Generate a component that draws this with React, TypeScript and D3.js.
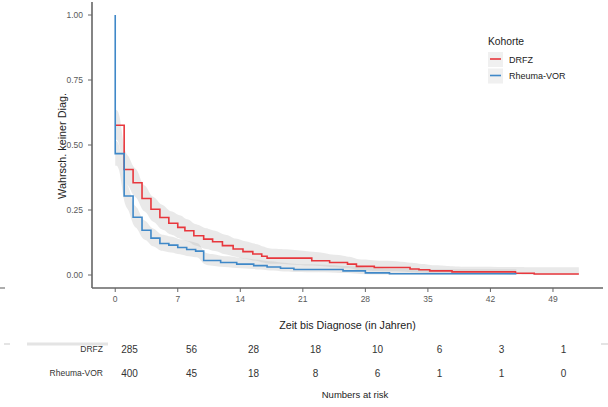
import React, { useEffect, useRef } from 'react';
import * as d3 from 'd3';

// step times (years) and survival for each cohort
const drfzTime = [0, 1, 2, 3, 4, 5, 6, 7, 7.8, 8.8, 9.9, 10.9, 12, 13.2, 14.3, 15.4, 16.4, 17, 22, 24, 26, 27, 29, 33, 34, 35.2, 37.7, 44.8, 46.9, 51.9];
const drfzSurv = [0.576, 0.406, 0.355, 0.294, 0.253, 0.221, 0.199, 0.183, 0.17, 0.151, 0.138, 0.128, 0.113, 0.1, 0.09, 0.081, 0.072, 0.065, 0.055, 0.048, 0.042, 0.033, 0.029, 0.023, 0.02, 0.016, 0.012, 0.007, 0.004, 0.004];
const drfzLow = [0.52, 0.35, 0.3, 0.245, 0.205, 0.175, 0.155, 0.14, 0.13, 0.112, 0.1, 0.092, 0.08, 0.07, 0.062, 0.055, 0.048, 0.042, 0.035, 0.03, 0.025, 0.018, 0.015, 0.011, 0.009, 0.007, 0.004, 0.001, 0.001];
const drfzHigh = [0.635, 0.465, 0.41, 0.345, 0.3, 0.27, 0.245, 0.23, 0.215, 0.195, 0.18, 0.17, 0.155, 0.14, 0.13, 0.12, 0.11, 0.1, 0.088, 0.078, 0.07, 0.06, 0.055, 0.047, 0.043, 0.037, 0.032, 0.03, 0.03];

const rvorTime = [0, 0, 1, 2, 3, 4, 5, 6, 7, 8, 9, 9.9, 11.8, 13.6, 15.5, 17, 18.5, 20, 25.5, 28, 30.7, 44.9];
const rvorSurv = [1, 0.467, 0.304, 0.222, 0.172, 0.142, 0.121, 0.115, 0.106, 0.098, 0.092, 0.056, 0.048, 0.042, 0.036, 0.031, 0.026, 0.021, 0.016, 0.008, 0.005, 0.005];
const rvorLow = [0.42, 0.42, 0.26, 0.183, 0.137, 0.11, 0.092, 0.087, 0.079, 0.072, 0.067, 0.037, 0.031, 0.026, 0.022, 0.018, 0.014, 0.011, 0.007, 0.002, 0.001, 0.001];
const rvorHigh = [0.515, 0.515, 0.35, 0.265, 0.21, 0.178, 0.155, 0.148, 0.138, 0.13, 0.123, 0.082, 0.073, 0.066, 0.059, 0.053, 0.047, 0.041, 0.035, 0.027, 0.022, 0.022];

const xTicks = [0, 7, 14, 21, 28, 35, 42, 49];
const yTicks = [0, 0.25, 0.5, 0.75, 1];
const cohorts = ['DRFZ', 'Rheuma-VOR'];
const cohortColors = ['#E8373D', '#3F88C8'];
const riskDrfz = [285, 56, 28, 18, 10, 6, 3, 1];
const riskRvor = [400, 45, 18, 8, 6, 1, 1, 0];

const FONT = "'Liberation Sans', Arial, sans-serif";

const App: React.FC = () => {
  const svgRef = useRef<SVGSVGElement | null>(null);

  useEffect(() => {
    if (!svgRef.current) return;
    const svg = d3.select(svgRef.current);
    svg.selectAll('*').remove();

    const left = 92, right = 603, top = 2, bottom = 288;

    const x = d3.scaleLinear().domain([-2.6, 54.6]).range([left, right]);
    const y = d3.scaleLinear().domain([-0.05, 1.05]).range([bottom, top]);

    const series = [
      { time: drfzTime, surv: drfzSurv, low: drfzLow, high: drfzHigh, color: cohortColors[0] },
      { time: rvorTime, surv: rvorSurv, low: rvorLow, high: rvorHigh, color: cohortColors[1] },
    ];

    // confidence bands, drawn as a soft ribbon through the step midpoints
    series.forEach(s => {
      const n = s.low.length;
      const pts: { t: number; lo: number; hi: number }[] = [];
      for (let i = 0; i < n; i++) {
        const t0 = s.time[i];
        const t1 = s.time[Math.min(i + 1, s.time.length - 1)];
        pts.push({ t: t0, lo: s.low[i], hi: s.high[i] });
        pts.push({ t: (t0 + t1) / 2, lo: s.low[i], hi: s.high[i] });
      }
      pts.push({ t: s.time[Math.min(n, s.time.length - 1)], lo: s.low[n - 1], hi: s.high[n - 1] });
      const area = d3.area<{ t: number; lo: number; hi: number }>()
        .curve(d3.curveBasis)
        .x(d => x(d.t))
        .y0(d => y(d.lo))
        .y1(d => y(d.hi));
      svg.append('path')
        .datum(pts)
        .attr('d', area)
        .attr('fill', '#b5b5b5')
        .attr('fill-opacity', 0.3)
        .attr('stroke', 'none');
    });

    // curves
    series.forEach(s => {
      const line = d3.line<number>()
        .curve(d3.curveStepAfter)
        .x(i => x(s.time[i]))
        .y(i => y(s.surv[i]));
      svg.append('path')
        .datum(d3.range(s.time.length))
        .attr('d', line)
        .attr('fill', 'none')
        .attr('stroke', s.color)
        .attr('stroke-width', 1.6);
    });

    // axes
    const axisColor = '#666';
    svg.append('line')
      .attr('x1', left).attr('x2', left).attr('y1', top).attr('y2', bottom)
      .attr('stroke', axisColor).attr('stroke-width', 1.6);
    svg.append('line')
      .attr('x1', left).attr('x2', right).attr('y1', bottom).attr('y2', bottom)
      .attr('stroke', axisColor).attr('stroke-width', 1.6);

    const yAxis = svg.append('g');
    yTicks.forEach(t => {
      yAxis.append('line')
        .attr('x1', left - 4).attr('x2', left).attr('y1', y(t)).attr('y2', y(t))
        .attr('stroke', axisColor).attr('stroke-width', 1);
      yAxis.append('text')
        .attr('x', left - 9).attr('y', y(t) + 3)
        .attr('text-anchor', 'end')
        .attr('font-size', 8.5)
        .attr('fill', '#5a5a5a')
        .text(d3.format('.2f')(t));
    });

    const xAxis = svg.append('g');
    xTicks.forEach(t => {
      xAxis.append('line')
        .attr('x1', x(t)).attr('x2', x(t)).attr('y1', bottom).attr('y2', bottom + 4)
        .attr('stroke', axisColor).attr('stroke-width', 1);
      xAxis.append('text')
        .attr('x', x(t)).attr('y', bottom + 14)
        .attr('text-anchor', 'middle')
        .attr('font-size', 8.5)
        .attr('fill', '#5a5a5a')
        .text(t);
    });

    // axis titles
    svg.append('text')
      .attr('transform', 'rotate(-90)')
      .attr('x', -146).attr('y', 66)
      .attr('text-anchor', 'middle')
      .attr('font-size', 10.8)
      .attr('fill', '#222')
      .text('Wahrsch. keiner Diag.');

    svg.append('text')
      .attr('x', (left + right) / 2).attr('y', 329)
      .attr('text-anchor', 'middle')
      .attr('font-size', 10.7)
      .attr('fill', '#222')
      .text('Zeit bis Diagnose (in Jahren)');

    // legend
    const legend = svg.append('g').attr('transform', 'translate(488,0)');
    legend.append('text')
      .attr('x', 0).attr('y', 45)
      .attr('font-size', 10.3)
      .attr('fill', '#222')
      .text('Kohorte');
    cohorts.forEach((c, i) => {
      const ky = 52 + i * 16.5;
      legend.append('rect')
        .attr('x', 0).attr('y', ky).attr('width', 15).attr('height', 15)
        .attr('fill', '#f0f0f0');
      legend.append('line')
        .attr('x1', 2).attr('x2', 13).attr('y1', ky + 7).attr('y2', ky + 7)
        .attr('stroke', cohortColors[i]).attr('stroke-width', 1.6);
      legend.append('text')
        .attr('x', 21).attr('y', ky + 10.5)
        .attr('font-size', 9)
        .attr('fill', '#222')
        .text(c);
    });

    // numbers at risk table
    const xr = d3.scaleLinear().domain([0, 49]).range([129.5, 563.5]);
    const risk = [riskDrfz, riskRvor];
    risk.forEach((row, r) => {
      const ry = 352 + r * 24;
      svg.append('text')
        .attr('x', 103).attr('y', ry)
        .attr('text-anchor', 'end')
        .attr('font-size', 8.5)
        .attr('fill', '#333')
        .text(cohorts[r]);
      row.forEach((v, i) => {
        svg.append('text')
          .attr('x', xr(xTicks[i])).attr('y', ry + 0.5)
          .attr('text-anchor', 'middle')
          .attr('font-size', 10)
          .attr('fill', '#333')
          .text(v);
      });
    });

    svg.append('text')
      .attr('x', 355).attr('y', 398)
      .attr('text-anchor', 'middle')
      .attr('font-size', 9.5)
      .attr('fill', '#222')
      .text('Numbers at risk');

    // faint leftover strokes from the pasted panels
    svg.append('line').attr('x1', 0).attr('x2', 5).attr('y1', 288).attr('y2', 288)
      .attr('stroke', '#777').attr('stroke-width', 1.2);
    svg.append('line').attr('x1', 27).attr('x2', 108).attr('y1', 344).attr('y2', 344)
      .attr('stroke', '#e4e4e4').attr('stroke-width', 3);
    svg.append('line').attr('x1', 4).attr('x2', 10).attr('y1', 344).attr('y2', 344)
      .attr('stroke', '#e4e4e4').attr('stroke-width', 2);
    svg.append('line').attr('x1', 601).attr('x2', 608).attr('y1', 344).attr('y2', 344)
      .attr('stroke', '#e4e4e4').attr('stroke-width', 2);
  }, []);

  return (
    <svg
      ref={svgRef}
      width={608}
      height={407}
      style={{ position: 'absolute', left: 0, top: 0, background: '#fff', fontFamily: FONT }}
    />
  );
};

export default App;
